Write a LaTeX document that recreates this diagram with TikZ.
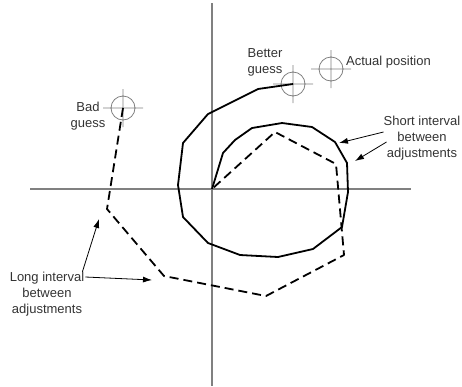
\documentclass[tikz,border=0pt]{standalone}
\usepackage{fontspec}
\setmainfont{Liberation Sans}
\usetikzlibrary{arrows.meta}

\begin{document}
\begin{tikzpicture}[x=1pt, y=-1pt, every node/.style={font=\fontsize{13}{16}\selectfont, text=black!80, inner sep=0pt, align=center},
  axis/.style={gray, line width=1.4pt},
  crosshair/.style={gray, line width=0.8pt},
  track/.style={line width=1.8pt, line join=round},
  lagtrack/.style={track, dash pattern=on 9pt off 5pt},
  pointer/.style={-{Latex[length=9pt,width=6pt]}, line width=0.8pt}]
  \useasboundingbox (0,0) rectangle (462,386);
  \draw[axis] (30,189) -- (411,189);
  \draw[axis] (212,3) -- (212,386);
  \coordinate (o) at (212,189);
  \coordinate (bad) at (123,108);
  \coordinate (better) at (293,84);
  \coordinate (actual) at (331,69);
  \foreach \p in {bad,better,actual}
    \draw[crosshair] (\p) circle (12pt) (\p) ++(-20,0) -- ++(40,0) (\p) ++(0,-19) -- ++(0,38);
  \draw[track] (o) -- (223,153) -- (235,140) -- (252,128) -- (282,123) -- (312,127) -- (335,142) -- (347,163) -- (348,192) -- (342,227) -- (313,249) -- (278,257) -- (240,255) -- (208,243) -- (183,217) -- (178,185) -- (183,143) -- (208,114) -- (258,89) -- (better);
  \draw[lagtrack] (bad) -- (107,209) -- (164,276) -- (266,296) -- (344,255) -- (336,164) -- (275,132) -- (o);
  \node (badlbl) at (88,116) {Bad\\guess};
  \node (betterlbl) at (265,62) {Better\\guess};
  \node[anchor=west] (actuallbl) at (346,62) {Actual position};
  \node (shortlbl) at (422,138) {Short interval\\between\\adjustments};
  \node (longlbl) at (47,294) {Long interval\\between\\adjustments};
  \coordinate (shorttip1) at (339,143);
  \coordinate (shorttip2) at (355,161);
  \coordinate (longtip1) at (99,219);
  \coordinate (longtip2) at (152,280);
  \draw[pointer] ([yshift=6pt]shortlbl.west) -- (shorttip1);
  \draw[pointer] ([xshift=3pt,yshift=-4pt]shortlbl.west) -- (shorttip2);
  \draw[pointer] ([xshift=-2pt]longlbl.north east) -- (longtip1);
  \draw[pointer] ([xshift=1pt,yshift=17pt]longlbl.east) -- (longtip2);
\end{tikzpicture}
\end{document}
